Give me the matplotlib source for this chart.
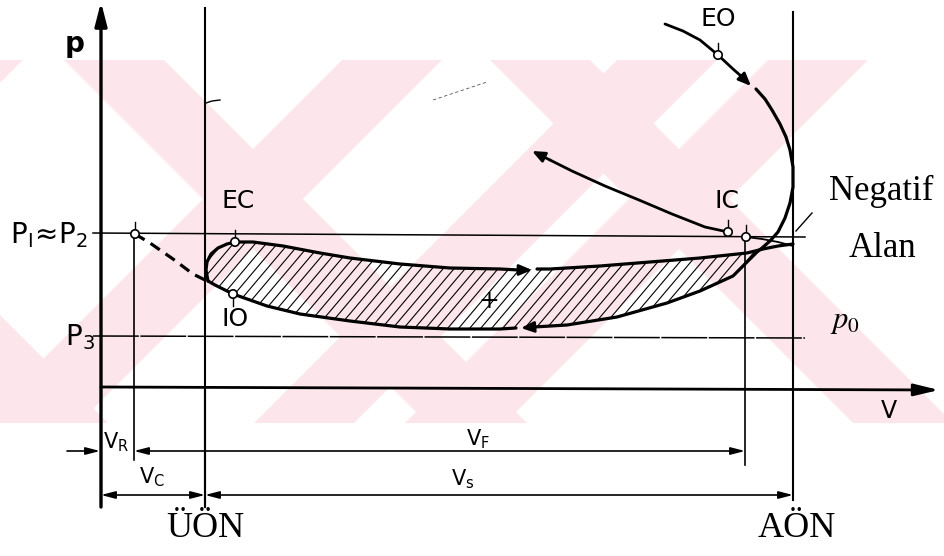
import matplotlib
matplotlib.use("Agg")
import matplotlib.pyplot as plt
from matplotlib.patches import Polygon, Circle
import numpy as np

# p-V diyagramı: pompalama çevrimi, pozitif ve negatif alan

plt.rcParams['font.family'] = ['DejaVu Sans']

# hacim ekseni üzerindeki karakteristik noktalar
V_R = 33       # artık hacim sınırı
V_UON = 104    # üst ölü nokta
V_IC = 644     # emme kapanması
V_AON = 692    # alt ölü nokta

# basınç çizgileri (sol uç, sağ uç)
p12_line = [155, 151]
p3_line = [52, 50]
vaxis_p = [1, -2]

# çevrimin üst kenarı (ok öncesi / ok sonrası)
upper_V = [107, 105, 106, 110, 117, 126, 134, 152, 182, 219, 249, 299, 349, 399, 418]
upper_p = [107, 118, 126, 134, 140, 144, 146, 146, 142, 135, 130, 124, 120, 119, 118]
upper2_V = [436, 449, 499, 549, 599, 646, 662, 677, 692]
upper2_p = [119, 119, 122, 126, 130, 135, 139, 142, 144]
upper_arrow = [(418, 118), (431, 118)]

# egzoz açılması eğrisi
eo_V = [564, 582, 599, 617, 632, 640]
eo_p = [364, 357, 348, 333, 319, 312]
eo_arrow = [(640, 312), (650, 302)]

# ani boşalma + alt kenar
low_V = [655, 664, 671, 679, 685, 689, 692, 692, 689, 684, 677, 669, 661, 656,
         646, 632, 599, 566, 516, 466, 433]
low_p = [299, 289, 278, 264, 251, 238, 221, 201, 185, 170, 156, 147, 140, 136,
         126, 112, 97, 85, 71, 63, 61]
low_arrow = [(433, 61), (420, 60)]
low2_V = [415, 399, 349, 299, 249, 199, 166, 132, 114, 107]
low2_p = [60, 59, 59, 61, 67, 74, 82, 94, 103, 107]

# sıkıştırma eğrisi (IC'den sola doğru)
comp_V = [627, 604, 571, 538, 504, 471, 449]
comp_p = [156, 161, 174, 188, 202, 217, 228]
comp_arrow = [(449, 228), (431, 237)]

# artık gazın genişlemesi (kesikli)
dash_V = [34, 49, 72, 92, 106]
dash_p = [154, 145, 129, 114, 107]

# negatif alan civarı ince çizgi
neg_V = [645, 661, 677, 692]
neg_p = [151, 149, 146, 142]

# işaretli noktalar: p1, EC, IO, EO, IC, IC'
pts_V = [34, 134, 132, 617, 627, 645]
pts_p = [154, 146, 94, 333, 156, 151]
pts_tick = [1, 1, -1, 1, 1, 1]

# ölçü okları: (sol, sağ, basınç seviyesi)
dims = [(V_R, V_IC, -63), (0, V_UON, -107), (V_UON, V_AON, -107)]
dim_labels = [r"$\mathregular{V_F}$", r"$\mathregular{V_C}$", r"$\mathregular{V_s}$"]
dim_label_pos = [(365, -57), (38, -95), (350, -97)]

fig = plt.figure(figsize=(9.44, 5.56), dpi=100)
ax = fig.add_axes([0, 0, 1, 1])
ax.set_xlim(-101, 843)
ax.set_ylim(-168, 388)
ax.axis('off')

# arka plandaki soluk pembe X deseni
wm_top, wm_bot = 328, -35
wm_H = wm_top - wm_bot
wm_bands = []
for c in [-266, 153, 579]:
    wm_bands.append((c - 190, 100, 1))
    wm_bands.append((c + 88, 100, -1))
wm_bands.append((516, 100, -1))
for L, w, d in wm_bands:
    pts = [(L, wm_top), (L + w, wm_top), (L + w + d * wm_H, wm_bot), (L + d * wm_H, wm_bot)]
    ax.add_patch(Polygon(pts, closed=True, fc='#fce6eb', ec='none', zorder=0))

k = 'black'

# eksenler
ax.annotate('', xy=(0, 386), xytext=(0, -119),
            arrowprops=dict(arrowstyle='-|>,head_length=1.4,head_width=0.36',
                            lw=2.4, color=k, shrinkA=0, shrinkB=0))
ax.annotate('', xy=(838, vaxis_p[1]), xytext=(0, vaxis_p[0]),
            arrowprops=dict(arrowstyle='-|>,head_length=1.5,head_width=0.36',
                            lw=2.0, color=k, shrinkA=0, shrinkB=0))

# ölü noktalar ve yardımcı düşey çizgiler
ax.plot([V_UON, V_UON], [380, -119], color=k, lw=1.5)
ax.plot([V_AON, V_AON], [376, -112], color=k, lw=1.5)
ax.plot([V_R, V_R], [154, -72], color=k, lw=1.2)
ax.plot([V_IC, V_IC], [151, -77], color=k, lw=1.2)

# p1≈p2 ve p3 çizgileri
ax.plot([-8, 704], p12_line, color=k, lw=1.1)
ax.plot([-8, 704], p3_line, color=k, lw=1.1, dashes=(30, 1))

# taralı pozitif alan
loop_V = upper_V + upper2_V[:6] + low_V[13:] + low2_V
loop_p = upper_p + upper2_p[:6] + low_p[13:] + low2_p
loop = Polygon(np.column_stack([loop_V, loop_p]), closed=True, fc='none', ec='none')
ax.add_patch(loop)
for x0 in np.arange(0, 760, 11):
    hl, = ax.plot([x0, x0 + 110], [40, 170], color=k, lw=0.8, zorder=1)
    hl.set_clip_path(loop)

lw_c = 2.3
ax.plot(upper_V, upper_p, color=k, lw=lw_c, solid_capstyle='round')
ax.plot(upper2_V, upper2_p, color=k, lw=lw_c, solid_capstyle='round')
ax.plot(eo_V, eo_p, color=k, lw=2.0, solid_capstyle='round')
ax.plot(low_V, low_p, color=k, lw=lw_c, solid_capstyle='round')
ax.plot(low2_V, low2_p, color=k, lw=lw_c, solid_capstyle='round')
ax.plot(comp_V, comp_p, color=k, lw=2.0, solid_capstyle='round')
ax.plot(dash_V, dash_p, color=k, lw=2.3, dashes=(3.5, 2.2))
ax.plot(neg_V, neg_p, color=k, lw=1.3)

for a in [upper_arrow, low_arrow, eo_arrow, comp_arrow]:
    ax.annotate('', xy=a[1], xytext=a[0],
                arrowprops=dict(arrowstyle='-|>,head_length=0.75,head_width=0.32',
                                lw=2.0, color=k, shrinkA=0, shrinkB=0))

# nokta işaretleri ve küçük çentikler
for v, p, t in zip(pts_V, pts_p, pts_tick):
    ax.plot([v, v], [p + t * 4, p + t * 12], color=k, lw=1.0)
    ax.add_patch(Circle((v, p), 4.2, fc='white', ec=k, lw=1.2, zorder=5))

# ölçü okları
for v0, v1, p in dims:
    ax.annotate('', xy=(v1, p), xytext=(v0, p),
                arrowprops=dict(arrowstyle='<|-|>,head_length=0.85,head_width=0.22',
                                lw=1.2, color=k, shrinkA=0, shrinkB=0))
ax.annotate('', xy=(-1, -63), xytext=(-34, -63),
            arrowprops=dict(arrowstyle='-|>,head_length=0.85,head_width=0.22',
                            lw=1.2, color=k, shrinkA=0, shrinkB=0))
for v in [0, V_UON]:
    ax.plot([v, v], [0, -119], color=k, lw=1.5)

# negatif alan göstergesi ve küçük izler
ax.plot([711, 695], [175, 157], color=k, lw=1.0)
ax.plot([105, 111, 119], [285, 287, 288], color=k, lw=1.0)
ax.plot([332, 386], [288, 306], color='#555555', lw=0.6, dashes=(4, 3))

# yazılar
ax.text(-26, 344, 'p', fontsize=20, fontweight='bold', ha='center', va='center')
ax.text(788, -23, 'V', fontsize=17, ha='center', va='center')
ax.text(-52, 145, r"$\mathregular{P_I\!\approx\! P_2}$", fontsize=20, ha='center', va='baseline')
ax.text(-36, 43, r"$\mathregular{P_3}$", fontsize=20, ha='left', va='baseline')
ax.text(2, -60, r"$\mathregular{V_R}$", fontsize=15, ha='left', va='baseline')
for s, (v, p) in zip(dim_labels, dim_label_pos):
    ax.text(v, p, s, fontsize=15, ha='left', va='baseline')

for s, v, p in [('EC', 137, 187), ('IC', 626, 187), ('EO', 617, 369), ('IO', 134, 69)]:
    ax.text(v, p, s, fontsize=18, ha='center', va='center')
ax.text(388, 87, '+', fontsize=18, ha='center', va='center')

ax.text(780, 188, 'Negatif', fontsize=25, family='Liberation Serif', ha='center', va='baseline')
ax.text(781, 131, 'Alan', fontsize=25, family='Liberation Serif', ha='center', va='baseline')
ax.text(729, 60, r"$p_0$", fontsize=22, math_fontfamily='stix', ha='left', va='baseline')
ax.text(104, -149, 'ÜÖN', fontsize=26, family='Liberation Serif', ha='center', va='baseline')
ax.text(696, -149, 'AÖN', fontsize=26, family='Liberation Serif', ha='center', va='baseline')

fig.savefig('out.png', dpi=100)
